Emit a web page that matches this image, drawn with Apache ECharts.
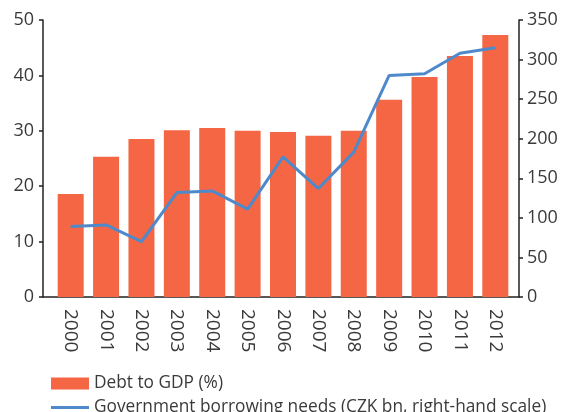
<!DOCTYPE html>
<html>
<head>
<meta charset="utf-8">
<script src="https://cdn.jsdelivr.net/npm/echarts@6/dist/echarts.min.js"></script>
<style>
  html, body { margin: 0; padding: 0; background: #fff; }
  #chart { width: 561px; height: 412px; }
</style>
</head>
<body>
<div id="chart"></div>
<script>
// Czech public finances: debt ratio vs. state borrowing needs
const years = ['2000', '2001', '2002', '2003', '2004', '2005', '2006',
               '2007', '2008', '2009', '2010', '2011', '2012'];
const debtToGdp = [18.6, 25.3, 28.5, 30.1, 30.5, 30.0, 29.8, 29.1, 30.0, 35.6, 39.7, 43.5, 47.3];
const borrowingNeeds = [89, 91, 70, 132, 134, 111, 177, 137, 183, 280, 282, 308, 315];
const leftTicks = [0, 10, 20, 30, 40, 50];
const rightTicks = [0, 50, 100, 150, 200, 250, 300, 350];

const barName = 'Debt to GDP (%)';
const lineName = 'Government borrowing needs (CZK bn, right-hand scale)';

const textColor = '#3a3a3a';
const fontFamily = '"Open Sans", "Noto Sans", sans-serif';
const barColor = '#F46644';
const lineColor = '#4E8ACB';

const chart = echarts.init(document.getElementById('chart'), null, { renderer: 'canvas' });

const legendBase = {
  orient: 'horizontal',
  left: 46,
  itemWidth: 38,
  itemHeight: 12,
  itemGap: 6,
  symbolKeepAspect: true,
  textStyle: { fontSize: 17.3, color: textColor, fontFamily: fontFamily }
};

chart.setOption({
  animation: false,
  textStyle: { fontFamily: fontFamily, color: textColor },
  grid: [
    // plotting area (categories sit a little inside the axis frame)
    { left: 53, right: 48, top: 20, bottom: 115 },
    // frame used only for the full-width baseline
    { left: 43, right: 42, top: 20, bottom: 115 }
  ],
  xAxis: [
    {
      type: 'category',
      gridIndex: 0,
      data: years,
      boundaryGap: true,
      axisLine: { show: false },
      axisTick: { show: false },
      axisLabel: {
        rotate: -90,
        margin: 12,
        fontSize: 19,
        color: textColor,
        fontFamily: fontFamily
      }
    },
    {
      type: 'value',
      gridIndex: 1,
      min: 0,
      max: 1,
      axisLine: { show: true, lineStyle: { color: '#222', width: 1.5 } },
      axisTick: { show: false },
      axisLabel: { show: false },
      splitLine: { show: false }
    }
  ],
  yAxis: [
    {
      type: 'value',
      gridIndex: 0,
      position: 'left',
      offset: 10,
      min: leftTicks[0],
      max: leftTicks[leftTicks.length - 1],
      interval: 10,
      axisLine: { show: true, lineStyle: { color: '#222', width: 1.5 } },
      axisTick: { show: true, length: 4, lineStyle: { color: '#222', width: 1.5 } },
      axisLabel: { fontSize: 18, color: textColor, margin: 9, fontFamily: fontFamily },
      splitLine: { show: false }
    },
    {
      type: 'value',
      gridIndex: 0,
      position: 'right',
      offset: 6,
      min: rightTicks[0],
      max: rightTicks[rightTicks.length - 1],
      interval: 50,
      axisLine: { show: true, lineStyle: { color: '#222', width: 1.5 } },
      axisTick: { show: true, length: 4, lineStyle: { color: '#222', width: 1.5 } },
      axisLabel: { fontSize: 18, color: textColor, margin: 8, fontFamily: fontFamily },
      splitLine: { show: false }
    },
    {
      type: 'value',
      gridIndex: 1,
      show: false
    }
  ],
  legend: [
    Object.assign({}, legendBase, {
      top: 370,
      data: [{ name: barName, icon: 'rect' }]
    }),
    Object.assign({}, legendBase, {
      top: 394,
      data: [{ name: lineName, icon: 'path://M0,0 H38 V3 H0 Z' }]
    })
  ],
  series: [
    {
      name: barName,
      type: 'bar',
      xAxisIndex: 0,
      yAxisIndex: 0,
      data: debtToGdp,
      barWidth: 26,
      itemStyle: { color: barColor }
    },
    {
      name: lineName,
      type: 'line',
      xAxisIndex: 0,
      yAxisIndex: 1,
      data: borrowingNeeds,
      symbol: 'none',
      lineStyle: { color: lineColor, width: 3 },
      itemStyle: { color: lineColor }
    }
  ]
});
</script>
</body>
</html>
